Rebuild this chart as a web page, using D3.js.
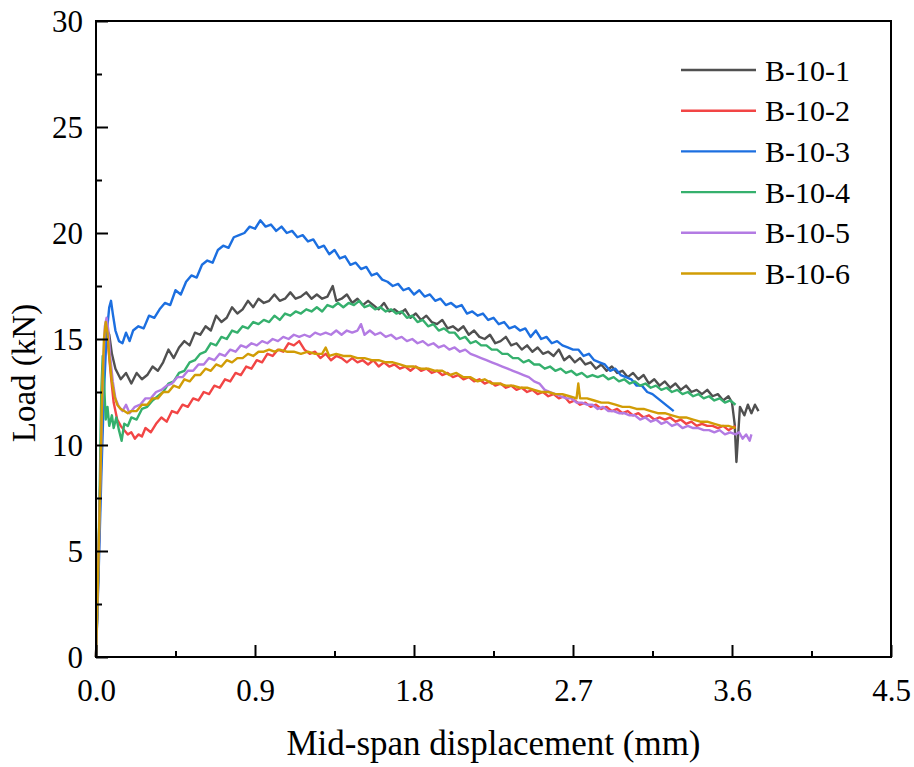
<!DOCTYPE html>
<html>
<head>
<meta charset="utf-8">
<script src="https://cdn.jsdelivr.net/npm/d3@7"></script>
<style>
  body { margin: 0; background: #fff; }
  svg text { font-family: "Liberation Serif", "Times New Roman", serif; fill: #000; }
</style>
</head>
<body>
<div id="chart"></div>
<script>
var seriesNames = ["B-10-1", "B-10-2", "B-10-3", "B-10-4", "B-10-5", "B-10-6"];
var seriesColors = ["#505050", "#f24545", "#1c6fe0", "#35b06d", "#b37be3", "#d19c05"];
var xTicks = [0, 0.9, 1.8, 2.7, 3.6, 4.5];
var yTicks = [0, 5, 10, 15, 20, 25, 30];

// [displacement (mm), load (kN)]
var b10_1 = [[0,0],[0.012,4],[0.025,8.5],[0.038,12.5],[0.05,15.0],[0.06,15.5],[0.075,15.2],[0.09,14.3],[0.11,13.6],[0.14,13.1],[0.17,13.4],[0.2,12.9],[0.23,13.4],[0.26,13.1],[0.29,13.3],[0.32,13.7],[0.35,13.5],[0.38,13.9],[0.41,14.5],[0.44,14.1],[0.47,14.6],[0.5,14.9],[0.53,14.7],[0.56,15.3],[0.59,15.2],[0.62,15.6],[0.65,15.4],[0.68,16.1],[0.71,15.8],[0.74,16.0],[0.77,16.5],[0.8,16.2],[0.83,16.4],[0.86,16.8],[0.89,16.5],[0.92,16.9],[0.95,16.7],[0.98,16.8],[1.01,17.1],[1.04,16.8],[1.07,16.9],[1.1,17.2],[1.13,16.9],[1.16,17.0],[1.19,17.2],[1.22,16.9],[1.25,17.1],[1.28,16.9],[1.31,17.0],[1.34,17.5],[1.36,16.8],[1.39,16.9],[1.42,17.1],[1.45,16.7],[1.48,16.9],[1.51,16.6],[1.54,16.8],[1.57,16.6],[1.6,16.4],[1.63,16.7],[1.66,16.3],[1.69,16.4],[1.72,16.2],[1.75,16.4],[1.78,16.0],[1.81,16.2],[1.84,15.9],[1.87,16.1],[1.9,15.8],[1.93,15.7],[1.96,15.9],[1.99,15.5],[2.02,15.6],[2.05,15.4],[2.08,15.6],[2.11,15.2],[2.14,15.4],[2.17,15.1],[2.2,15.0],[2.23,15.2],[2.26,14.8],[2.29,14.9],[2.32,15.1],[2.35,14.7],[2.38,14.8],[2.41,14.5],[2.44,14.7],[2.47,14.4],[2.5,14.6],[2.53,14.3],[2.56,14.4],[2.59,14.2],[2.62,14.5],[2.65,14.0],[2.68,14.2],[2.71,13.9],[2.74,14.1],[2.77,13.8],[2.8,13.9],[2.83,13.6],[2.86,13.8],[2.89,13.5],[2.92,13.7],[2.95,13.4],[2.98,13.5],[3.01,13.2],[3.04,13.4],[3.07,13.1],[3.1,13.3],[3.13,12.9],[3.16,13.1],[3.19,12.8],[3.22,13.0],[3.25,12.7],[3.28,12.9],[3.31,12.6],[3.34,12.8],[3.37,12.5],[3.4,12.6],[3.43,12.4],[3.46,12.6],[3.49,12.3],[3.52,12.4],[3.55,12.1],[3.58,12.3],[3.6,12.0],[3.615,11.0],[3.625,9.2],[3.635,10.5],[3.645,11.8],[3.67,11.4],[3.69,11.9],[3.71,11.5],[3.73,11.9],[3.75,11.6]];

var b10_2 = [[0,0],[0.012,3.5],[0.025,8],[0.038,12],[0.05,14.6],[0.06,15.3],[0.07,14.6],[0.085,13.2],[0.1,12.0],[0.12,11.2],[0.14,10.9],[0.16,10.7],[0.18,10.5],[0.2,10.6],[0.22,10.3],[0.24,10.5],[0.26,10.4],[0.28,10.8],[0.31,10.6],[0.34,11.0],[0.37,11.3],[0.4,11.1],[0.43,11.6],[0.46,11.5],[0.49,11.9],[0.52,11.8],[0.55,12.2],[0.58,12.1],[0.61,12.5],[0.64,12.4],[0.67,12.8],[0.7,12.7],[0.73,13.1],[0.76,13.0],[0.79,13.4],[0.82,13.3],[0.85,13.7],[0.88,13.6],[0.91,14.0],[0.94,13.9],[0.97,14.3],[1.0,14.2],[1.03,14.5],[1.06,14.4],[1.09,14.8],[1.12,14.7],[1.15,14.9],[1.18,14.5],[1.21,14.3],[1.24,14.4],[1.27,14.1],[1.3,14.3],[1.33,14.0],[1.36,14.2],[1.39,14.1],[1.42,13.9],[1.45,14.1],[1.48,13.9],[1.51,14.0],[1.54,13.8],[1.57,14.0],[1.6,13.7],[1.63,13.9],[1.66,13.7],[1.69,13.8],[1.72,13.6],[1.75,13.7],[1.78,13.5],[1.81,13.7],[1.84,13.5],[1.87,13.6],[1.9,13.4],[1.93,13.5],[1.96,13.3],[1.99,13.4],[2.02,13.2],[2.05,13.3],[2.08,13.1],[2.11,13.2],[2.14,13.0],[2.17,13.1],[2.2,12.9],[2.23,13.0],[2.26,12.8],[2.29,12.9],[2.32,12.7],[2.35,12.8],[2.38,12.6],[2.41,12.7],[2.44,12.5],[2.47,12.6],[2.5,12.4],[2.53,12.5],[2.56,12.3],[2.59,12.4],[2.62,12.2],[2.65,12.3],[2.68,12.0],[2.71,12.1],[2.74,11.9],[2.77,12.0],[2.8,11.8],[2.83,11.9],[2.86,11.7],[2.89,11.8],[2.92,11.6],[2.95,11.7],[2.98,11.5],[3.01,11.6],[3.04,11.4],[3.07,11.5],[3.1,11.3],[3.13,11.4],[3.16,11.2],[3.19,11.3],[3.22,11.2],[3.25,11.3],[3.28,11.1],[3.31,11.2],[3.34,11.0],[3.37,11.1],[3.4,10.9],[3.43,11.0],[3.46,10.9],[3.49,10.9],[3.52,10.8],[3.55,10.9],[3.58,10.7],[3.62,10.9]];

var b10_3 = [[0,0],[0.015,4],[0.03,8.5],[0.045,12.5],[0.06,15.2],[0.075,16.5],[0.085,16.8],[0.095,16.2],[0.11,15.4],[0.13,14.9],[0.15,14.8],[0.17,15.3],[0.19,14.9],[0.21,15.4],[0.24,15.6],[0.27,15.5],[0.3,16.1],[0.33,16.0],[0.36,16.4],[0.39,16.7],[0.42,16.6],[0.45,17.3],[0.48,17.1],[0.51,17.7],[0.54,18.0],[0.57,17.9],[0.6,18.5],[0.63,18.7],[0.66,18.6],[0.69,19.2],[0.72,19.4],[0.75,19.3],[0.78,19.8],[0.81,19.9],[0.84,20.0],[0.87,20.3],[0.9,20.2],[0.93,20.6],[0.96,20.3],[0.99,20.4],[1.02,20.1],[1.05,20.3],[1.08,20.0],[1.11,20.1],[1.14,19.8],[1.17,19.9],[1.2,19.6],[1.23,19.7],[1.26,19.3],[1.29,19.4],[1.32,19.0],[1.35,19.2],[1.38,18.8],[1.41,18.9],[1.44,18.5],[1.47,18.6],[1.5,18.3],[1.53,18.4],[1.56,18.0],[1.59,18.1],[1.62,17.8],[1.65,17.7],[1.68,17.5],[1.71,17.6],[1.74,17.3],[1.77,17.4],[1.8,17.1],[1.83,17.3],[1.86,17.0],[1.89,17.1],[1.92,16.8],[1.95,16.9],[1.98,16.6],[2.01,16.7],[2.04,16.5],[2.07,16.6],[2.1,16.2],[2.13,16.3],[2.16,16.1],[2.19,16.2],[2.22,15.9],[2.25,16.0],[2.28,15.7],[2.31,15.8],[2.34,15.5],[2.37,15.6],[2.4,15.4],[2.43,15.5],[2.46,15.1],[2.49,15.4],[2.52,15.0],[2.55,15.1],[2.58,14.8],[2.61,14.9],[2.64,14.7],[2.67,14.6],[2.7,14.5],[2.73,14.5],[2.76,14.2],[2.79,14.3],[2.82,14.0],[2.85,13.9],[2.88,13.8],[2.91,13.5],[2.94,13.6],[2.97,13.3],[3.0,13.2],[3.03,13.1],[3.06,12.8],[3.09,12.8],[3.12,12.5],[3.15,12.4],[3.18,12.2],[3.21,12.0],[3.24,11.8],[3.27,11.6]];

var b10_4 = [[0,0],[0.01,3],[0.02,7.5],[0.03,12.5],[0.038,14.2],[0.045,13.0],[0.055,11.2],[0.065,11.8],[0.075,10.9],[0.09,11.4],[0.1,10.8],[0.115,11.3],[0.13,10.7],[0.145,10.2],[0.16,11.0],[0.18,10.9],[0.2,11.3],[0.23,11.2],[0.26,11.7],[0.29,11.8],[0.32,12.1],[0.35,12.3],[0.38,12.5],[0.41,12.9],[0.44,13.0],[0.47,13.4],[0.5,13.5],[0.53,13.9],[0.56,14.0],[0.59,14.3],[0.62,14.4],[0.65,14.8],[0.68,14.7],[0.71,15.1],[0.74,15.0],[0.77,15.4],[0.8,15.3],[0.83,15.6],[0.86,15.5],[0.89,15.8],[0.92,15.7],[0.95,15.9],[0.98,15.8],[1.01,16.1],[1.04,15.9],[1.07,16.2],[1.1,16.1],[1.13,16.3],[1.16,16.2],[1.19,16.4],[1.22,16.3],[1.25,16.5],[1.28,16.3],[1.31,16.6],[1.34,16.5],[1.37,16.7],[1.4,16.5],[1.43,16.7],[1.46,16.6],[1.49,16.8],[1.52,16.5],[1.55,16.6],[1.58,16.4],[1.61,16.5],[1.64,16.3],[1.67,16.4],[1.7,16.2],[1.73,16.3],[1.76,16.0],[1.79,16.1],[1.82,15.8],[1.85,15.9],[1.88,15.6],[1.91,15.7],[1.94,15.4],[1.97,15.5],[2.0,15.3],[2.03,15.3],[2.06,15.0],[2.09,15.1],[2.12,14.8],[2.15,14.9],[2.18,14.7],[2.21,14.7],[2.24,14.5],[2.27,14.5],[2.3,14.3],[2.33,14.3],[2.36,14.1],[2.39,14.1],[2.42,13.9],[2.45,14.0],[2.48,13.8],[2.51,13.8],[2.54,13.6],[2.57,13.7],[2.6,13.5],[2.63,13.6],[2.66,13.4],[2.69,13.5],[2.72,13.3],[2.75,13.4],[2.78,13.2],[2.81,13.3],[2.84,13.2],[2.87,13.3],[2.9,13.1],[2.93,13.2],[2.96,13.0],[2.99,13.1],[3.02,12.9],[3.05,13.0],[3.08,12.8],[3.11,12.9],[3.14,12.7],[3.17,12.8],[3.2,12.6],[3.23,12.7],[3.26,12.5],[3.29,12.6],[3.32,12.4],[3.35,12.5],[3.38,12.3],[3.41,12.4],[3.44,12.2],[3.47,12.3],[3.5,12.1],[3.53,12.2],[3.56,12.0],[3.59,12.1],[3.62,11.9]];

var b10_5 = [[0,0],[0.012,4],[0.025,8.5],[0.038,13],[0.05,15.6],[0.06,16.0],[0.07,15.4],[0.08,14.2],[0.095,13.0],[0.11,12.2],[0.13,11.8],[0.15,11.6],[0.17,11.9],[0.19,11.5],[0.22,11.8],[0.25,11.9],[0.28,12.2],[0.31,12.2],[0.34,12.5],[0.37,12.6],[0.4,12.8],[0.43,12.9],[0.46,13.2],[0.49,13.2],[0.52,13.5],[0.55,13.5],[0.58,13.8],[0.61,13.8],[0.64,14.1],[0.67,14.0],[0.7,14.3],[0.73,14.2],[0.76,14.5],[0.79,14.4],[0.82,14.7],[0.85,14.6],[0.88,14.8],[0.91,14.7],[0.94,14.9],[0.97,14.8],[1.0,15.0],[1.03,14.9],[1.06,15.1],[1.09,15.0],[1.12,15.2],[1.15,15.1],[1.18,15.2],[1.21,15.1],[1.24,15.3],[1.27,15.2],[1.3,15.3],[1.33,15.2],[1.36,15.4],[1.39,15.2],[1.42,15.4],[1.45,15.3],[1.48,15.4],[1.5,15.7],[1.52,15.2],[1.55,15.4],[1.58,15.2],[1.61,15.3],[1.64,15.1],[1.67,15.2],[1.7,15.0],[1.73,15.1],[1.76,14.9],[1.79,15.0],[1.82,14.8],[1.85,14.9],[1.88,14.7],[1.91,14.8],[1.94,14.6],[1.97,14.7],[2.0,14.5],[2.03,14.6],[2.06,14.4],[2.09,14.5],[2.12,14.3],[2.15,14.2],[2.18,14.1],[2.21,14.0],[2.24,13.9],[2.27,13.8],[2.3,13.7],[2.33,13.6],[2.36,13.5],[2.39,13.4],[2.42,13.3],[2.45,13.2],[2.48,13.0],[2.51,12.9],[2.54,12.6],[2.57,12.5],[2.6,12.4],[2.63,12.3],[2.66,12.2],[2.69,12.2],[2.72,12.0],[2.75,12.0],[2.78,11.9],[2.81,11.9],[2.84,11.7],[2.87,11.8],[2.9,11.6],[2.93,11.6],[2.96,11.5],[2.99,11.5],[3.02,11.4],[3.05,11.4],[3.08,11.2],[3.11,11.3],[3.14,11.1],[3.17,11.2],[3.2,11.0],[3.23,11.1],[3.26,10.9],[3.29,11.0],[3.32,10.8],[3.35,10.9],[3.38,10.8],[3.41,10.8],[3.44,10.7],[3.47,10.7],[3.5,10.6],[3.53,10.7],[3.56,10.5],[3.59,10.6],[3.62,10.5],[3.64,10.6],[3.66,10.3],[3.68,10.5],[3.7,10.2],[3.71,10.5]];

var b10_6 = [[0,0],[0.012,4],[0.025,8.5],[0.035,12.5],[0.045,15.0],[0.055,15.8],[0.065,15.3],[0.075,14.2],[0.09,13.0],[0.105,12.3],[0.12,11.9],[0.14,11.7],[0.16,11.6],[0.18,11.5],[0.2,11.6],[0.23,11.6],[0.26,11.9],[0.29,11.9],[0.32,12.2],[0.35,12.2],[0.38,12.5],[0.41,12.5],[0.44,12.8],[0.47,12.7],[0.5,13.1],[0.53,13.0],[0.56,13.3],[0.59,13.3],[0.62,13.6],[0.65,13.5],[0.68,13.8],[0.71,13.7],[0.74,14.0],[0.77,13.9],[0.8,14.1],[0.83,14.1],[0.86,14.3],[0.89,14.2],[0.92,14.4],[0.95,14.4],[0.98,14.5],[1.01,14.4],[1.04,14.5],[1.08,14.4],[1.12,14.4],[1.16,14.3],[1.2,14.4],[1.24,14.3],[1.28,14.3],[1.3,14.6],[1.32,14.2],[1.36,14.3],[1.4,14.2],[1.44,14.2],[1.48,14.1],[1.52,14.1],[1.56,14.0],[1.6,14.0],[1.64,13.9],[1.68,13.9],[1.72,13.8],[1.76,13.7],[1.8,13.7],[1.84,13.6],[1.88,13.6],[1.92,13.5],[1.96,13.5],[2.0,13.3],[2.04,13.4],[2.08,13.2],[2.12,13.2],[2.16,13.0],[2.2,13.1],[2.24,12.9],[2.28,12.9],[2.32,12.8],[2.36,12.8],[2.4,12.7],[2.44,12.7],[2.48,12.6],[2.52,12.5],[2.56,12.5],[2.6,12.4],[2.64,12.4],[2.68,12.3],[2.72,12.2],[2.73,12.9],[2.74,12.2],[2.78,12.2],[2.82,12.1],[2.86,12.0],[2.9,12.0],[2.94,11.9],[2.98,11.8],[3.02,11.8],[3.06,11.7],[3.1,11.7],[3.14,11.6],[3.18,11.5],[3.22,11.5],[3.26,11.4],[3.3,11.3],[3.34,11.3],[3.38,11.2],[3.42,11.1],[3.46,11.1],[3.5,11.0],[3.54,10.9],[3.58,10.9],[3.62,10.8]];

var seriesData = [b10_1, b10_2, b10_3, b10_4, b10_5, b10_6];

var W = 914, H = 767;
var margin = {top: 21, right: 23, bottom: 110, left: 96};
var width = W - margin.left - margin.right,
    height = H - margin.top - margin.bottom;

var svg = d3.select("#chart").append("svg")
    .attr("width", W)
    .attr("height", H)
    .attr("font-family", "Liberation Serif, serif");

var g = svg.append("g")
    .attr("transform", "translate(" + margin.left + "," + margin.top + ")");

var x = d3.scaleLinear().domain([0, 4.5]).range([0, width]);
var y = d3.scaleLinear().domain([0, 30]).range([height, 0]);

var line = d3.line()
    .x(function (d) { return x(d[0]); })
    .y(function (d) { return y(d[1]); });

// curves
seriesData.forEach(function (s, i) {
    g.append("path")
        .datum(s)
        .attr("fill", "none")
        .attr("stroke", seriesColors[i])
        .attr("stroke-width", 2.4)
        .attr("stroke-linejoin", "round")
        .attr("d", line);
});

// frame
g.append("rect")
    .attr("width", width)
    .attr("height", height)
    .attr("fill", "none")
    .attr("stroke", "#000")
    .attr("stroke-width", 2);

// axes, ticks point inward
var xAxis = d3.axisBottom(x).tickValues(xTicks).tickFormat(d3.format(".1f")).tickSizeInner(-12).tickSizeOuter(0).tickPadding(22);
var yAxis = d3.axisLeft(y).tickValues(yTicks).tickFormat(d3.format("d")).tickSizeInner(-12).tickSizeOuter(0).tickPadding(13);

var gx = g.append("g")
    .attr("transform", "translate(0," + height + ")")
    .call(xAxis);
var gy = g.append("g").call(yAxis);

// minor ticks
g.append("g")
    .attr("transform", "translate(0," + height + ")")
    .call(d3.axisBottom(x).tickValues(d3.range(0.45, 4.5, 0.9)).tickSizeInner(-6).tickSizeOuter(0).tickFormat(""));
g.append("g")
    .call(d3.axisLeft(y).tickValues(d3.range(2.5, 30, 5)).tickSizeInner(-6).tickSizeOuter(0).tickFormat(""));

g.selectAll(".domain").remove();
g.selectAll("g").attr("font-family", null).attr("font-size", null);
g.selectAll(".tick line").attr("stroke", "#000").attr("stroke-width", 2);
gx.selectAll("text").style("font-size", "31px");
gy.selectAll("text").style("font-size", "31px").attr("dy", "0.33em");

// axis titles
g.append("text")
    .attr("x", width / 2)
    .attr("y", height + 98)
    .attr("text-anchor", "middle")
    .style("font-size", "35px")
    .text("Mid-span displacement (mm)");

g.append("text")
    .attr("transform", "rotate(-90)")
    .attr("x", -height / 2 - 34)
    .attr("y", -61)
    .attr("text-anchor", "middle")
    .style("font-size", "33px")
    .text("Load (kN)");

// legend
var legend = g.append("g")
    .attr("transform", "translate(" + (width - 210) + ",49)");

seriesNames.forEach(function (name, i) {
    var row = legend.append("g").attr("transform", "translate(0," + (i * 40.7) + ")");
    row.append("line")
        .attr("x1", 0).attr("x2", 75)
        .attr("stroke", seriesColors[i])
        .attr("stroke-width", 2.4);
    row.append("text")
        .attr("x", 84)
        .attr("dy", "0.35em")
        .style("font-size", "30px")
        .text(name);
});
</script>
</body>
</html>
